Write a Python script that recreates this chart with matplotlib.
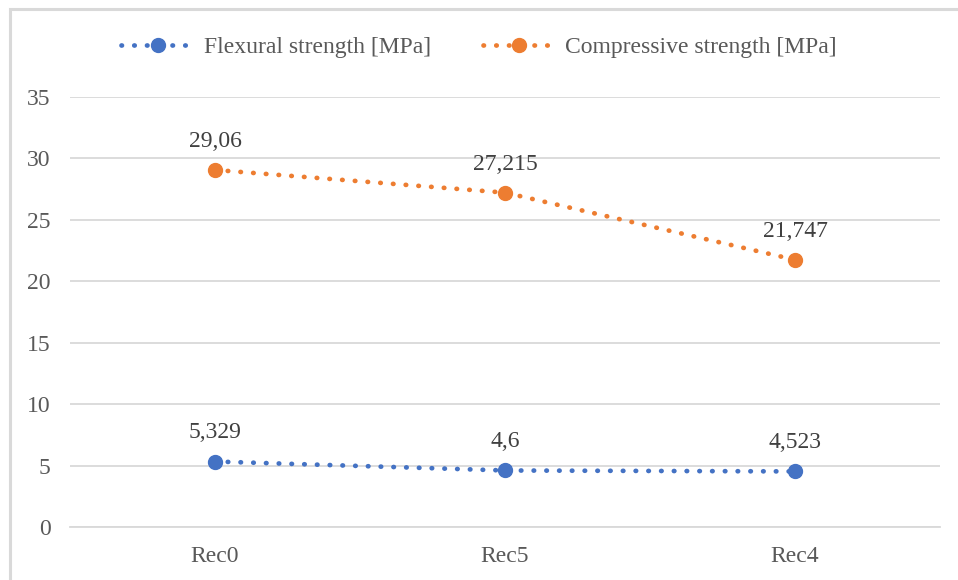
import matplotlib.pyplot as plt
from matplotlib.patches import Rectangle

plt.rcParams['font.family'] = ['Liberation Serif', 'DejaVu Serif']

# Data
categories = ['Rec0', 'Rec5', 'Rec4']
flexural = [5.329, 4.6, 4.523]
compressive = [29.06, 27.215, 21.747]
flex_labels = ['5,329', '4,6', '4,523']
comp_labels = ['29,06', '27,215', '21,747']

blue = '#4472C4'
orange = '#ED7D31'
grey_txt = '#595959'
grid_col = '#D9D9D9'

fig = plt.figure(figsize=(9.58, 5.8), dpi=100)
ax = fig.add_axes([0.0731, 0.0914, 0.9081, 0.7414])

# outer chart border (cropped at right/bottom)
fig.patches.append(Rectangle((10 / 958, -0.1), 1.2, 1 - 9 / 580 + 0.1,
                             transform=fig.transFigure, fill=False,
                             edgecolor='#D9D9D9', linewidth=2.2))

x = range(len(categories))
dots = (0, (0.1, 2.6))
ax.plot(x, flexural, linestyle=dots, dash_capstyle='round', linewidth=3.4,
        color=blue, marker='o', markersize=10, label='Flexural strength [MPa]')
ax.plot(x, compressive, linestyle=dots, dash_capstyle='round', linewidth=3.4,
        color=orange, marker='o', markersize=10, label='Compressive strength [MPa]')

for xi, v, t in zip(x, flexural, flex_labels):
    ax.annotate(t, (xi, v), xytext=(0, 13), textcoords='offset points',
                ha='center', va='bottom', fontsize=17, color='#404040')
for xi, v, t in zip(x, compressive, comp_labels):
    ax.annotate(t, (xi, v), xytext=(0, 13), textcoords='offset points',
                ha='center', va='bottom', fontsize=17, color='#404040')

ax.set_xlim(-0.5, 2.5)
ax.set_ylim(0, 35)
ax.set_yticks(range(0, 36, 5))
ax.set_xticks(list(x))
ax.set_xticklabels(categories)
ax.grid(axis='y', color=grid_col, linewidth=1.3)
ax.set_axisbelow(True)
for s in ['top', 'right', 'left']:
    ax.spines[s].set_visible(False)
ax.spines['bottom'].set_color(grid_col)
ax.spines['bottom'].set_linewidth(1.3)
ax.tick_params(axis='both', length=0, labelsize=17, labelcolor=grey_txt)
ax.tick_params(axis='y', pad=14)
ax.tick_params(axis='x', pad=14)

fig.legend(loc='center', bbox_to_anchor=(0.5, 1 - 47 / 580), ncol=2, frameon=False,
           fontsize=17, labelcolor=grey_txt, handlelength=3.1, columnspacing=2.2,
           handletextpad=0.4)

fig.savefig('out.png', dpi=100)
